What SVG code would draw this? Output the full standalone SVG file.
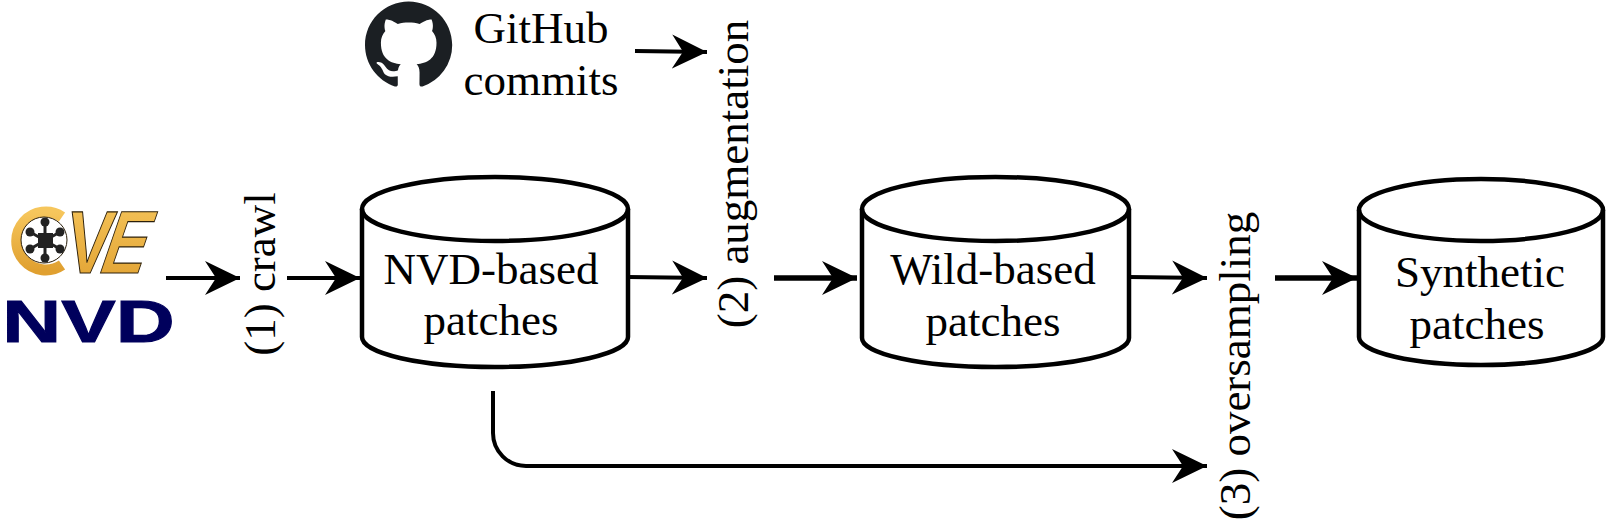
<svg xmlns="http://www.w3.org/2000/svg" width="1607" height="528" viewBox="0 0 1607 528">
<style>
text{font-family:"Liberation Serif","Times New Roman",serif;font-size:45px;fill:#000;text-anchor:middle}
.cyl{fill:#fff;stroke:#000;stroke-width:4.5}
.lid{fill:none;stroke:#000;stroke-width:4.5}
.c{fill:none;stroke:#000;stroke-width:4;marker-end:url(#a)}
.t{stroke-width:5.500}
.n{fill:#222;stroke:none}
.s{stroke:#222;stroke-width:3}
.lg{font-family:"Liberation Sans",Arial,sans-serif;font-size:89px;font-weight:bold;fill:url(#g);stroke:#2a1e0a;stroke-width:1.2;text-anchor:start}
</style>
<defs>
<marker id="a" markerUnits="userSpaceOnUse" markerWidth="36" markerHeight="36" refX="35" refY="18" orient="auto"><path d="M0 1L35 18L0 35L11 18Z" fill="#000"/></marker>
<linearGradient id="g" x1="0" y1="0" x2="0" y2="1"><stop offset="0" stop-color="#f6c65c"/><stop offset="1" stop-color="#e0a030"/></linearGradient>
</defs>
<g id="connectors">
<path class="c" d="M166 278H240"/>
<path class="c" d="M287 278H360"/>
<path class="c" d="M628 277L707 278"/>
<path class="c t" d="M774 278H857"/>
<path class="c" d="M1129 277L1207 278"/>
<path class="c t" d="M1275 278H1357"/>
<path class="c" d="M493 391V433A33 33 0 0 0 526 466H1207"/>
<path class="c" d="M635 51L707 52"/>
</g>
<g id="cve-logo">
<path d="M62 217A29 29 0 1 0 62 265" fill="none" stroke="url(#g)" stroke-width="11"/>
<circle cx="44" cy="240" r="23" fill="#fff" stroke="#2a1e0a" stroke-width="1"/>
<path class="s" d="M45 222V258M30 232L60 249M60 232L30 249"/>
<rect class="n" x="38" y="233" width="15" height="15"/>
<circle class="n" cx="45" cy="222" r="4.500"/><circle class="n" cx="45" cy="258" r="4.500"/>
<circle class="n" cx="30" cy="232" r="4.500"/><circle class="n" cx="60" cy="232" r="4.500"/>
<circle class="n" cx="30" cy="249" r="4.500"/><circle class="n" cx="60" cy="249" r="4.500"/>
<text class="lg" transform="translate(62 273) skewX(-9) scale(.78 1)">V</text>
<text class="lg" transform="translate(96 273) skewX(-19) scale(.75 1)">E</text>
</g>
<g id="nvd-logo">
<text transform="translate(88.500 342) scale(1.36 1)" style="font-family:'Liberation Sans',sans-serif;font-size:60px;font-weight:bold;fill:#00005c;stroke:#00005c;stroke-width:1">NVD</text>
</g>
<g id="github-logo">
<path transform="translate(365 1.500) scale(5.45)" fill="#1b1f23" fill-rule="evenodd" d="M8 0C3.58 0 0 3.58 0 8c0 3.54 2.29 6.53 5.47 7.59.4.07.55-.17.55-.38 0-.19-.01-.82-.01-1.49-2.01.37-2.53-.49-2.69-.94-.09-.23-.48-.94-.82-1.13-.28-.15-.68-.52-.01-.53.63-.01 1.08.58 1.23.82.72 1.21 1.87.87 2.33.66.07-.52.28-.87.51-1.07-1.78-.2-3.64-.89-3.64-3.95 0-.87.31-1.59.82-2.15-.08-.2-.36-1.02.08-2.12 0 0 .67-.21 2.2.82.64-.18 1.32-.27 2-.27.68 0 1.36.09 2 .27 1.53-1.04 2.2-.82 2.2-.82.44 1.1.16 1.92.08 2.12.51.56.82 1.27.82 2.15 0 3.07-1.87 3.75-3.65 3.95.29.25.54.73.54 1.48 0 1.07-.01 1.93-.01 2.2 0 .21.15.46.55.38A8.013 8.013 0 0016 8c0-4.42-3.58-8-8-8z"/>
</g>
<g id="github-label"><text x="541" y="43">GitHub</text><text x="541" y="95">commits</text></g>
<g id="label-crawl"><text transform="translate(275 274) rotate(-90)">(1) crawl</text></g>
<g id="label-augmentation"><text transform="translate(748 174) rotate(-90)">(2) augmentation</text></g>
<g id="label-oversampling"><text transform="translate(1250 366) rotate(-90)">(3) oversampling</text></g>
<g id="nvd-patches">
<path class="cyl" d="M362 209A133 32 0 0 1 628 209V337A133 30 0 0 1 362 337Z"/>
<path class="lid" d="M362 209A133 32 0 0 0 628 209"/>
<text x="491" y="284">NVD-based</text><text x="491" y="335">patches</text>
</g>
<g id="wild-patches">
<path class="cyl" d="M862 209A133.500 32 0 0 1 1129 209V338A133.500 29 0 0 1 862 338Z"/>
<path class="lid" d="M862 209A133.500 32 0 0 0 1129 209"/>
<text x="993" y="284">Wild-based</text><text x="993" y="336">patches</text>
</g>
<g id="synthetic-patches">
<path class="cyl" d="M1359 210A122 31 0 0 1 1603 210V337A122 28 0 0 1 1359 337Z"/>
<path class="lid" d="M1359 210A122 31 0 0 0 1603 210"/>
<text x="1480" y="287">Synthetic</text><text x="1477" y="339">patches</text>
</g>
</svg>
